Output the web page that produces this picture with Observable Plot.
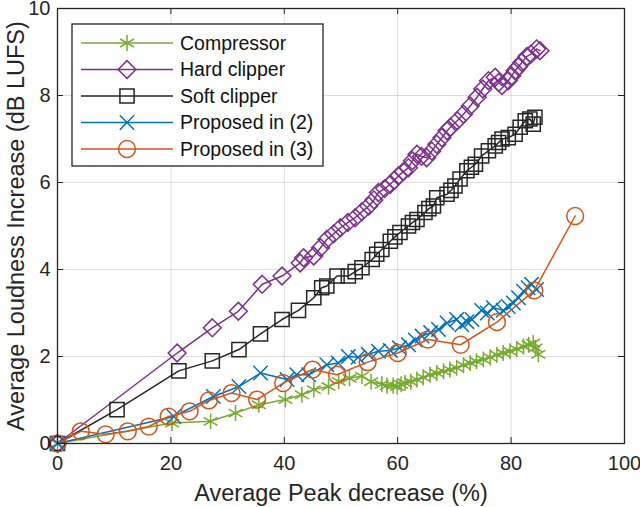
<!DOCTYPE html>
<html>
<head>
<meta charset="utf-8">
<script src="https://cdn.jsdelivr.net/npm/d3@7"></script>
<script src="https://cdn.jsdelivr.net/npm/@observablehq/plot@0.6"></script>
<style>
  body { margin: 0; background: #fff; }
  #chart svg { display: block; }
</style>
</head>
<body>
<div id="chart"></div>
<script>
// ticks
const xTicks = [0, 20, 40, 60, 80, 100]
const yTicks = [0, 2, 4, 6, 8, 10]
const xLabel = 'Average Peak decrease (%)'
const yLabel = 'Average Loudness Increase (dB LUFS)'

// [peak decrease %, loudness increase dB]
const compressor = [[0,0],[20.2,0.47],[27,0.51],[31.4,0.7],[35.5,0.89],[40.2,1.01],[43.1,1.12],[45.2,1.24],[47.8,1.31],[49.6,1.43],
  [51.5,1.5],[53.7,1.55],[55.3,1.42],[57.2,1.36],[58.1,1.33],[59.2,1.33],[59.9,1.31],[60.6,1.36],[61.3,1.39],[62.3,1.42],
  [63.4,1.47],[64.5,1.52],[65.7,1.58],[66.9,1.62],[68.1,1.66],[69.2,1.7],[70.4,1.74],[71.6,1.8],[72.8,1.85],[73.9,1.89],
  [75.1,1.93],[76.3,1.98],[77.5,2.04],[78.6,2.08],[79.8,2.12],[81,2.17],[82.2,2.23],[83.1,2.27],[83.9,2.31],[84.3,2.2],[84.8,2.05]]

const hardClipper = [[0,0],[21.1,2.08],[27.3,2.66],[31.9,3.04],[36.1,3.66],[39.6,3.85],[42.8,4.15],[43.4,4.27],[45.2,4.31],[46.4,4.5],
  [47.5,4.69],[48.7,4.82],[49.9,4.96],[51.2,5.08],[52.5,5.19],[53.7,5.33],[54.9,5.46],[55.8,5.6],[56.6,5.77],[57.7,5.86],
  [58.7,5.96],[59.4,6.05],[60.1,6.15],[61,6.25],[61.9,6.34],[62.6,6.5],[63.4,6.65],[64.2,6.6],[65.1,6.57],[66,6.72],
  [66.9,6.88],[67.8,7.03],[68.7,7.19],[69.3,7.27],[70.5,7.42],[71.6,7.57],[72.8,7.76],[74,7.96],[75,8.15],[76,8.34],
  [77.2,8.42],[77.8,8.3],[78.4,8.23],[79.5,8.34],[80.1,8.45],[80.7,8.57],[81.3,8.66],[81.9,8.76],[82.8,8.9],[83.5,8.95],
  [84.5,9.07],[85.1,9.03]]

const softClipper = [[0,0],[10.5,0.78],[21.4,1.67],[27.3,1.9],[32,2.16],[35.8,2.52],[39.6,2.85],[42.5,3.06],[45.2,3.35],[46.6,3.58],
  [47.5,3.62],[49.3,3.85],[51.3,3.85],[52.5,3.95],[53.7,4.04],[55.5,4.23],[56.3,4.35],[57.2,4.46],[58.7,4.65],[59.5,4.75],
  [60.4,4.85],[61.9,5],[62.6,5.08],[63.4,5.15],[64.8,5.31],[65.5,5.4],[66.3,5.46],[66.9,5.65],[68.7,5.73],[69.4,5.82],
  [70.1,5.92],[71,6.08],[72.2,6.27],[73,6.35],[73.7,6.42],[74.8,6.61],[76,6.73],[77.2,6.84],[77.8,6.92],[78.4,7],
  [79.5,7.03],[80.7,7.11],[81.6,7.27],[82.5,7.42],[83.3,7.46],[83.9,7.34],[84.2,7.5]]

const proposed2 = [[0,0],[20.5,0.62],[27.5,1.08],[32,1.31],[35.8,1.62],[40.5,1.47],[42.2,1.58],[44.3,1.58],[47.5,1.81],[49.5,1.85],
  [51.3,2],[53,1.98],[54.8,2.05],[56.6,2.12],[58.7,2.14],[60.3,2.2],[61.9,2.27],[63.1,2.38],[64.3,2.47],[65.8,2.55],
  [67.2,2.62],[68.7,2.77],[70.4,2.85],[71.3,2.73],[72.2,2.8],[73.1,2.85],[74.8,3.06],[75.8,3],[76.9,3.12],[78.6,3.06],
  [79.5,3.15],[80.4,3.23],[81.3,3.35],[82.2,3.5],[83,3.58],[83.6,3.66],[84.5,3.54]]

const proposed3 = [[0,0],[4.1,0.28],[8.5,0.21],[12.4,0.28],[16.1,0.39],[19.6,0.62],[23.3,0.74],[26.7,0.99],[30.7,1.16],[35.2,1.01],
  [39.8,1.39],[45,1.7],[49.3,1.58],[54.7,1.87],[60,2.08],[65.3,2.39],[71.1,2.27],[77.5,2.79],[84.1,3.52],[91.3,5.23]]

const names = ['Compressor', 'Hard clipper', 'Soft clipper', 'Proposed in (2)', 'Proposed in (3)']
const values = [compressor, hardClipper, softClipper, proposed2, proposed3]

// styles (MATLAB default colours)
const colors = ['#77AC30', '#7E2F8E', '#262626', '#0072BD', '#D95319']
const symbols = ['asterisk', 'diamond2', 'square', 'times', 'circle']
const radii = [7.6, 8, 8, 6.6, 8.4]

const W = 640, H = 507
const mL = 57, mR = 16, mT = 8, mB = 64
const innerW = W - mL - mR, innerH = H - mT - mB
const axisColor = '#262626'

const marks = [
  Plot.gridX(xTicks, {stroke: '#000', strokeOpacity: 0.13}),
  Plot.gridY(yTicks, {stroke: '#000', strokeOpacity: 0.13}),
]

values.forEach((pts, i) => {
  const rows = pts.map(([x, y]) => ({x, y}))
  marks.push(Plot.line(rows, {x: 'x', y: 'y', stroke: colors[i], strokeWidth: 1.5}))
  marks.push(Plot.dot(rows, {x: 'x', y: 'y', symbol: symbols[i], r: radii[i], stroke: colors[i], strokeWidth: 1.5, fill: 'none'}))
})

marks.push(
  // inward ticks on all four sides, like a MATLAB box
  Plot.tickX(xTicks, {x: d => d, insetTop: innerH - 6, stroke: axisColor}),
  Plot.tickX(xTicks, {x: d => d, insetBottom: innerH - 6, stroke: axisColor}),
  Plot.tickY(yTicks, {y: d => d, insetRight: innerW - 6, stroke: axisColor}),
  Plot.tickY(yTicks, {y: d => d, insetLeft: innerW - 6, stroke: axisColor}),
  Plot.frame({stroke: axisColor, strokeWidth: 1.3}),
  Plot.axisX({ticks: xTicks, tickSize: 0, tickPadding: 12, fontSize: 20, label: null}),
  Plot.axisY({ticks: yTicks, tickSize: 0, tickPadding: 7, fontSize: 20, label: null}),
  Plot.text([xLabel], {frameAnchor: 'bottom', lineAnchor: 'middle', dy: 50, fontSize: 23.5, text: d => d, fill: axisColor}),
  Plot.text([yLabel], {frameAnchor: 'left', textAnchor: 'middle', lineAnchor: 'middle', dx: -41, rotate: -90, fontSize: 23.5, text: d => d, fill: axisColor}),
)

const chart = Plot.plot({
  width: W,
  height: H,
  marginLeft: mL,
  marginRight: mR,
  marginTop: mT,
  marginBottom: mB,
  style: {fontFamily: "'Liberation Sans', Arial, sans-serif", color: axisColor, background: '#fff'},
  x: {domain: [0, 100]},
  y: {domain: [0, 10]},
  marks,
})

/* legend box inside the axes, top-left */
const svg = d3.select(chart)
const lg = svg.append('g').attr('transform', 'translate(72,24)')
lg.append('rect').attr('width', 251).attr('height', 142)
  .attr('fill', '#fff').attr('stroke', axisColor).attr('stroke-width', 1.3)
const symbolTypes = {
  asterisk: d3.symbolAsterisk, diamond2: d3.symbolDiamond2, square: d3.symbolSquare,
  times: d3.symbolTimes, circle: d3.symbolCircle,
}
names.forEach((name, i) => {
  const row = lg.append('g').attr('transform', `translate(0,${19 + i * 26.5})`)
  row.append('line').attr('x1', 9).attr('x2', 101)
    .attr('stroke', colors[i]).attr('stroke-width', 1.5)
  row.append('path')
    .attr('transform', 'translate(55,0)')
    .attr('d', d3.symbol(symbolTypes[symbols[i]], radii[i] * radii[i] * Math.PI)())
    .attr('fill', 'none').attr('stroke', colors[i]).attr('stroke-width', 1.5)
  row.append('text').attr('x', 108).attr('dy', '0.35em').attr('text-anchor', 'start')
    .attr('font-size', 19.5).attr('fill', '#111').text(name)
})

d3.select('#chart').append(() => chart)
</script>
</body>
</html>
